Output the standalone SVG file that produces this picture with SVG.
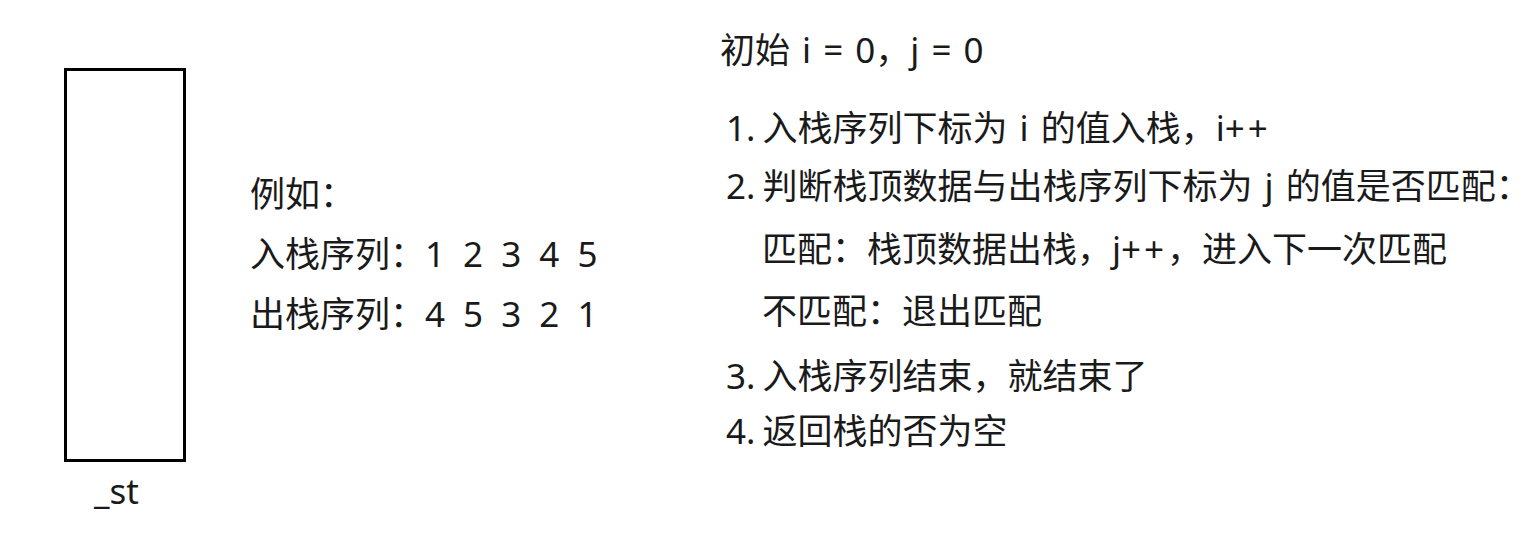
<svg xmlns="http://www.w3.org/2000/svg" width="1540" height="536" viewBox="0 0 1540 536">
<style>
.t{font-family:"Noto Sans","Noto Sans CJK SC",sans-serif;font-size:35px;fill:#1a1a1a;word-spacing:3px}
.nums{word-spacing:9px}
.pp{letter-spacing:3px}
.n{word-spacing:-2px}
.box{fill:#fff;stroke:#000;stroke-width:3}
</style>
<rect x="0" y="0" width="1540" height="536" fill="#fff"/>
<g id="stack">
<rect class="box" x="65.5" y="69.5" width="119" height="391"/>
<text class="t" x="94" y="504">_st</text>
</g>
<g id="example">
<text class="t" x="250" y="207">例如：</text>
<text class="t nums" x="250" y="267">入栈序列：1 2 3 4 5</text>
<text class="t nums" x="250" y="327">出栈序列：4 5 3 2 1</text>
</g>
<g id="steps">
<text class="t" x="720" y="63">初始 i = 0，j = 0</text>
<text class="t" x="726" y="141"><tspan class="n">1. </tspan>入栈序列下标为 i 的值入栈，i<tspan class="pp">++</tspan></text>
<text class="t" x="726" y="199"><tspan class="n">2. </tspan>判断栈顶数据与出栈序列下标为 j 的值是否匹配：</text>
<text class="t" x="762" y="262">匹配：栈顶数据出栈，j<tspan class="pp">++</tspan>，进入下一次匹配</text>
<text class="t" x="762" y="324">不匹配：退出匹配</text>
<text class="t" x="726" y="389"><tspan class="n">3. </tspan>入栈序列结束，就结束了</text>
<text class="t" x="726" y="444"><tspan class="n">4. </tspan>返回栈的否为空</text>
</g>
<g id="connectors"></g>
</svg>
